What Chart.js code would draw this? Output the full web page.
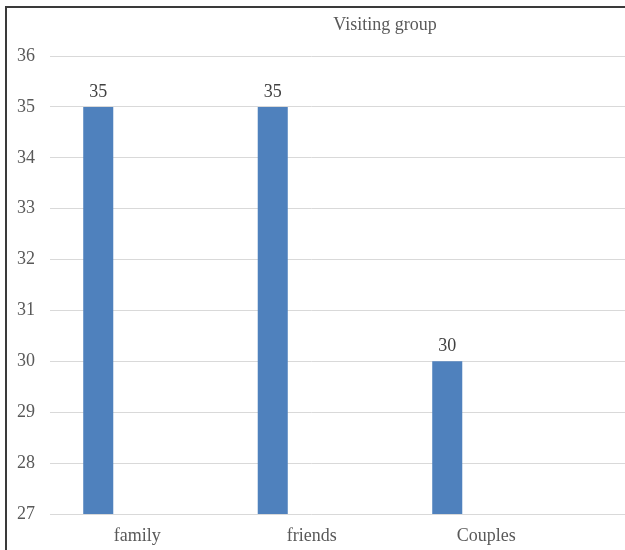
<!DOCTYPE html>
<html>
<head>
<meta charset="utf-8">
<script src="https://cdn.jsdelivr.net/npm/chart.js@4/dist/chart.umd.min.js"></script>
<style>
  html, body { margin: 0; padding: 0; overflow: hidden; background: #fff; width: 625px; height: 550px; }
  #wrap { position: absolute; left: 0; top: 0; width: 770px; height: 550px; }
  #frame { position: absolute; left: 5px; top: 6px; width: 800px; height: 600px;
           border-left: 2px solid #3a3a3a; border-top: 2px solid #3a3a3a; pointer-events: none; }
</style>
</head>
<body>
<div id="wrap"><canvas id="c" width="770" height="550"></canvas></div>
<div id="frame"></div>
<script>
const chartTitle = "Visiting group";
const categories = ["family", "friends", "Couples"];
const visitors = [35, 35, 30];
const emptySeries = [null, null, null];
const yMin = 27, yMax = 36, yStep = 1;

const textColor = "#595959";
const fontFamily = "'Liberation Serif', 'Times New Roman', serif";
const fontSize = 18;

function alignPx(p) { return Math.round(p - 0.5) + 0.5; }

const extendGrid = {
  id: "extendGrid",
  beforeDatasetsDraw(chart) {
    const { ctx, chartArea, scales } = chart;
    const y = scales.y;
    ctx.save();
    ctx.strokeStyle = "#d9d9d9";
    ctx.lineWidth = 1;
    const ext = chartArea.right + (chartArea.right - chartArea.left) / categories.length;
    y.ticks.forEach(t => {
      const py = alignPx(y.getPixelForValue(t.value));
      ctx.beginPath();
      ctx.moveTo(chartArea.right - 1, py);
      ctx.lineTo(ext, py);
      ctx.stroke();
    });
    ctx.restore();
  }
};

const titleAndLabels = {
  id: "titleAndLabels",
  afterDatasetsDraw(chart) {
    const { ctx } = chart;
    ctx.save();
    ctx.fillStyle = textColor;
    ctx.font = fontSize + "px " + fontFamily;
    ctx.textAlign = "center";
    ctx.textBaseline = "middle";
    ctx.fillText(chartTitle, chart.width / 2, 25);
    const meta = chart.getDatasetMeta(0);
    ctx.fillStyle = "#404040";
    ctx.textBaseline = "bottom";
    meta.data.forEach((bar, i) => {
      const v = chart.data.datasets[0].data[i];
      if (v == null) return;
      ctx.fillText(String(v), bar.x, bar.y - 6);
    });
    ctx.restore();
  }
};

new Chart(document.getElementById("c"), {
  type: "bar",
  data: {
    labels: categories,
    datasets: [
      { label: "Visitors", data: visitors, backgroundColor: "#4f81bd",
        categoryPercentage: 0.894, barPercentage: 0.385 },
      { label: "", data: emptySeries, backgroundColor: "#c0504d",
        categoryPercentage: 0.894, barPercentage: 0.385 }
    ]
  },
  options: {
    responsive: false,
    animation: false,
    layout: { padding: { left: 0, right: 196.5, top: 56, bottom: 0 } },
    plugins: {
      legend: { display: false },
      tooltip: { enabled: false },
      title: { display: false }
    },
    scales: {
      x: {
        grid: { display: false, drawTicks: false },
        border: { display: false },
        ticks: { color: textColor, font: { family: fontFamily, size: fontSize }, padding: 11 },
        afterFit(s) { s.height = 36; }
      },
      y: {
        min: yMin, max: yMax,
        grid: { color: "#d9d9d9", drawTicks: false },
        border: { display: false },
        ticks: { stepSize: yStep, color: textColor, font: { family: fontFamily, size: fontSize }, padding: 15 },
        afterFit(s) { s.width = 50; }
      }
    }
  },
  plugins: [extendGrid, titleAndLabels]
});
</script>
</body>
</html>
